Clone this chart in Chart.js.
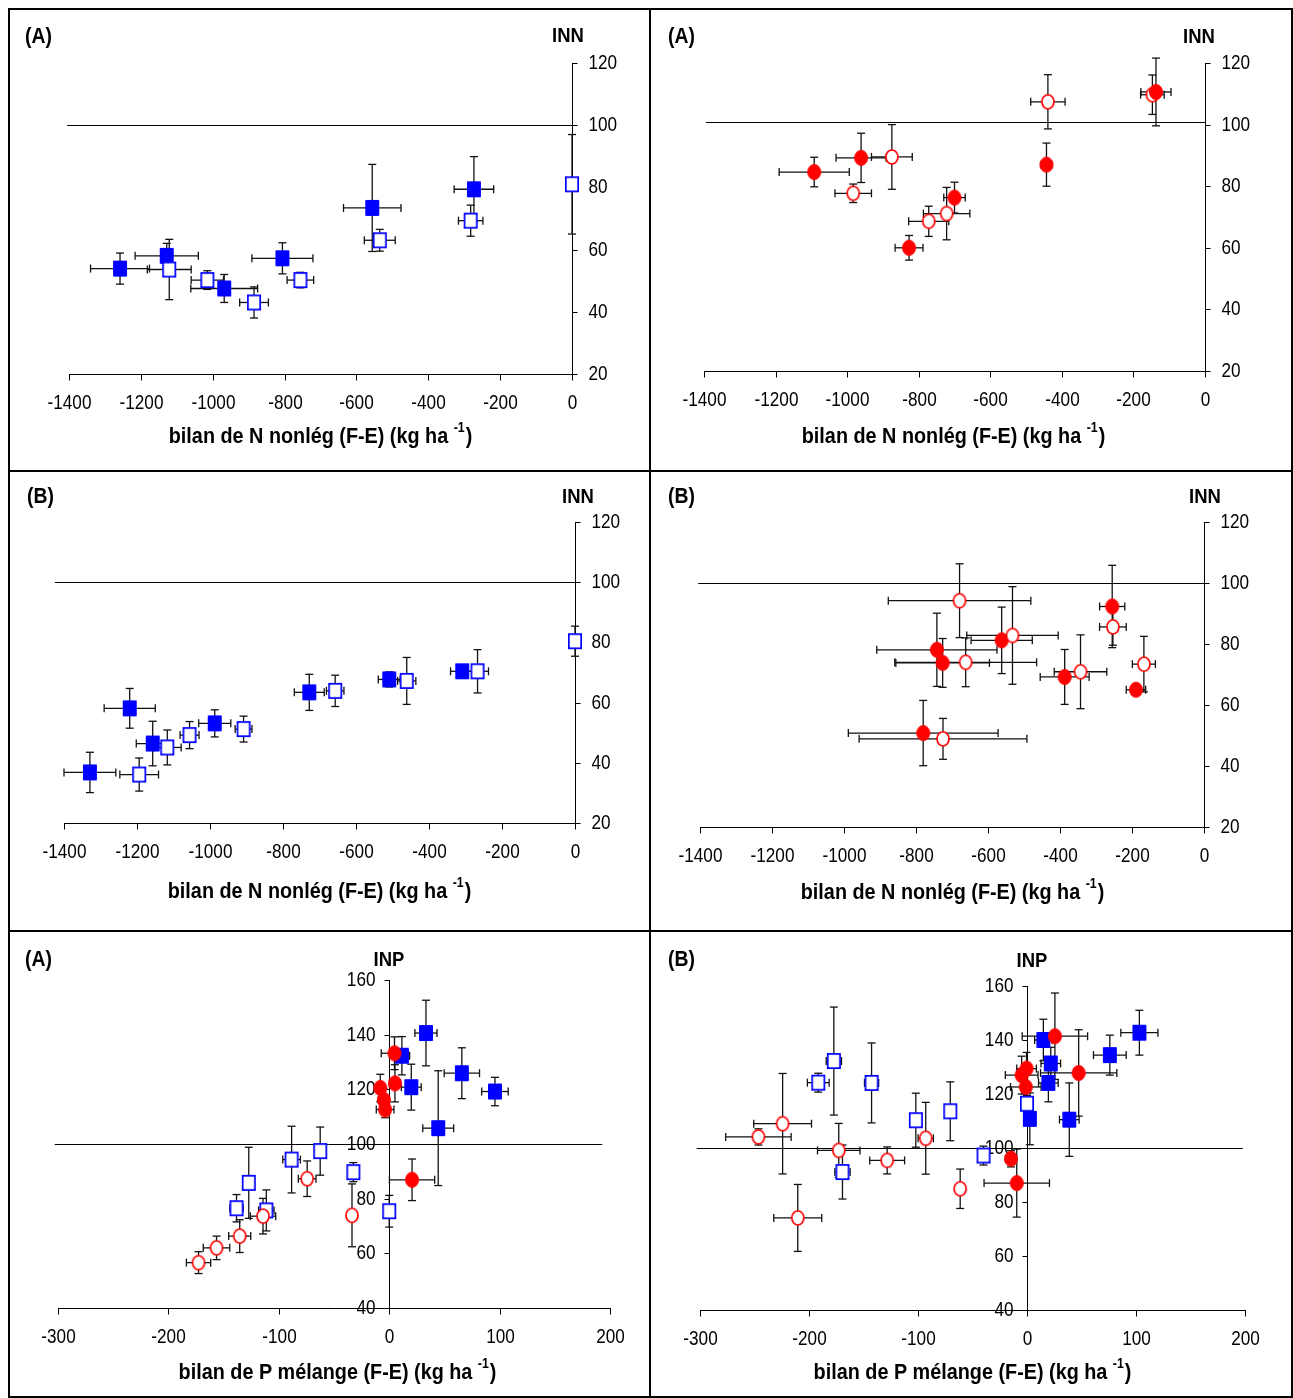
<!DOCTYPE html>
<html lang="fr">
<head>
<meta charset="utf-8">
<title>Indices de nutrition et bilans</title>
<script src="https://cdn.jsdelivr.net/npm/chart.js@4.4.1/dist/chart.umd.min.js"></script>
<style>
  html, body { margin: 0; padding: 0; background: #fff; }
  #page { position: relative; width: 1293px; height: 1398px; overflow: hidden; background: #fff; }
  #page canvas { position: absolute; display: block; }
  .cadre { position: absolute; box-sizing: border-box; border: 2px solid #000; }
  .trait { position: absolute; background: #000; }
</style>
</head>
<body>
<div id="page">
  <canvas id="g1"></canvas>
  <canvas id="g2"></canvas>
  <canvas id="g3"></canvas>
  <canvas id="g4"></canvas>
  <canvas id="g5"></canvas>
  <canvas id="g6"></canvas>
  <div class="cadre" style="left:8px;top:8px;width:1285px;height:1390px;"></div>
  <div class="trait" style="left:649px;top:8px;width:2px;height:1390px;"></div>
  <div class="trait" style="left:8px;top:470px;width:1285px;height:2px;"></div>
  <div class="trait" style="left:8px;top:930px;width:1285px;height:2px;"></div>
</div>
<script>
// ---- axis ticks ----
const xTicksN = [-1400, -1200, -1000, -800, -600, -400, -200, 0];
const yTicksN = [20, 40, 60, 80, 100, 120];
const xTicksP = [-300, -200, -100, 0, 100, 200];
const yTicksP = [40, 60, 80, 100, 120, 140, 160];

// ---- reference level (INN / INP = 100) and its extent on the x axis ----
const seuils = [100, 101, 100, 100, 100, 100];
const seuilEtendues = [[-1405, 0], [-1395, 0], [-1425, 0], [-1405, 0], [-303, 193], [-303, 198]];

// ---- series: [bilan, indice, ecart bilan, ecart indice] ----
// INN (A), non-legume balance
const innA_plein = [[-1258, 53.9, 82, 5], [-1128, 58, 88, 4], [-968, 47.5, 93, 4.5], [-806, 57.2, 85, 5], [-556, 73.4, 80, 14], [-273, 79.4, 55, 10.5]];
const innA_vide = [[-1121, 53.6, 61, 9.7], [-1015, 50.2, 45, 3], [-885, 43, 40, 5], [-756, 50.2, 37, 2.5], [-535, 63, 43, 3.5], [-282, 69.3, 34, 5], [0, 81, 0, 16]];
const innA_rougePlein = [[-1092, 84.6, 98, 4.8], [-961, 89.2, 70, 8], [-827, 60, 39, 4], [-700, 76.3, 30, 5], [-443, 87, 15, 7], [-137, 110.6, 42, 11]];
const innA_rougeVide = [[-983, 77.7, 51, 3], [-875, 89.5, 57, 10.5], [-772, 68.6, 56, 4.9], [-722, 71.1, 65, 8.5], [-439, 107.4, 48, 8.8], [-147, 109.7, 33, 6.4]];
// INN (B)
const innB_plein = [[-1329, 36.8, 71, 6.7], [-1220, 58.1, 70, 6.6], [-1157, 46.4, 45, 7.4], [-987, 53.1, 44, 4.5], [-728, 63.4, 41, 6], [-509, 67.7, 30, 2.5], [-309, 70.4, 32, 1.5]];
const innB_vide = [[-1194, 36.1, 53, 5.5], [-1117, 45.1, 38, 5.8], [-1056, 49.2, 26, 4.5], [-908, 51.2, 23, 4.3], [-657, 63.9, 24, 5.2], [-461, 67.2, 25, 7.8], [-267, 70.4, 30, 7.2], [0, 80.4, 0, 5]];
const innB_rougePlein = [[-742, 78.1, 167, 12], [-726, 73.8, 130, 8], [-780, 50.8, 208, 10.7], [-562, 81.2, 85, 10.9], [-387, 69.2, 68, 9], [-255, 92.3, 35, 13.5], [-189, 65, 27, 1]];
const innB_rougeVide = [[-679, 94.2, 198, 12.1], [-532, 82.8, 127, 16], [-662, 74, 197, 8], [-725, 48.9, 233, 6.7], [-343, 70.9, 73, 12.1], [-253, 85.6, 37, 6], [-167, 73.4, 32, 9.1]];
// INP (A), mixture P balance
const inpA_bleuPlein = [[33.3, 140.6, 10, 12], [11.5, 132.3, 7, 7], [20, 120.8, 9, 8.4], [65.8, 125.9, 16, 9.3], [95.8, 119.2, 12, 5.2], [44.4, 105.8, 14, 21]];
const inpA_rougePlein = [[4.8, 133.2, 12, 6], [-8.1, 120.5, 4, 5], [5.2, 122.2, 5, 6.8], [-4.8, 116.1, 5, 4], [-3.7, 112.6, 8, 3], [20.7, 86.9, 20.5, 7.6]];
const inpA_bleuVide = [[-138.3, 76.5, 6, 5], [-127.2, 85.8, 3, 13], [-111.3, 75.7, 7, 7.5], [-88.4, 94.3, 8, 12.2], [-62.5, 97.4, 3, 8.8], [-32.5, 89.7, 3, 3.5], [0, 75.4, 0, 5.8]];
const inpA_rougeVide = [[-172.7, 56.6, 11, 4], [-156.4, 62, 12, 4.3], [-135.4, 66.3, 10, 6], [-114.3, 73.6, 11.5, 6.5], [-74.3, 87.3, 8, 6.5], [-33.7, 73.9, 2, 11.5]];
// INP (B)
const inpB_bleuPlein = [[15, 140, 8, 7.7], [21.8, 131.3, 9, 6], [19.6, 124.1, 9, 7], [2.6, 110.8, 5, 9.6], [38.8, 110.5, 9, 13.6], [76, 134.4, 15, 7.4], [103.1, 142.7, 17, 8.3]];
const inpB_rougePlein = [[25.6, 141.4, 30, 16], [-0.4, 129.4, 9, 6], [-4.9, 127, 15, 7], [-1.1, 122.6, 14, 5], [47.4, 127.8, 35, 16], [-14.7, 96, 5, 3], [-9.4, 87, 30, 12.6]];
const inpB_bleuVide = [[-191.5, 124.2, 10, 3.5], [-177.2, 132.2, 7, 20], [-142.6, 124.1, 6.5, 14.8], [-102, 110.3, 2, 10], [-70.4, 113.6, 2, 10.9], [-169.3, 91.1, 7, 10], [-39.9, 97.2, 5, 3.5], [0, 116.4, 2, 3]];
const inpB_rougeVide = [[-246.4, 104.1, 30, 3], [-224.2, 109, 26.5, 18.6], [-210.3, 74.1, 22, 12.4], [-172.7, 99.1, 19.5, 10], [-128.3, 95.4, 16, 5], [-92.9, 103.6, 7, 13.3], [-61.3, 84.9, 2, 7.3]];

// ---- text helpers (slightly condensed face) ----
const FAMILLE = '"Liberation Sans", Arial, Helvetica, sans-serif';
const SERRE = 0.88;

function police(size, bold) { return (bold ? 'bold ' : '') + size + 'px ' + FAMILLE; }

function largeur(ctx, s, size, bold) {
  ctx.font = police(size, bold);
  return ctx.measureText(s).width * SERRE;
}

function texte(ctx, s, x, y, align, size, bold) {
  const w = largeur(ctx, s, size, bold);
  const gauche = align === 'center' ? x - w / 2 : align === 'right' ? x - w : x;
  ctx.save();
  ctx.translate(gauche, y);
  ctx.scale(SERRE, 1);
  ctx.font = police(size, bold);
  ctx.textAlign = 'left';
  ctx.textBaseline = 'middle';
  ctx.fillStyle = '#000';
  ctx.fillText(s, 0, 0);
  ctx.restore();
  return w;
}

function segment(ctx, x1, y1, x2, y2) {
  ctx.beginPath();
  ctx.moveTo(x1, y1);
  ctx.lineTo(x2, y2);
  ctx.stroke();
}

// ---- markers ----
function marqueur(forme, plein, couleur) {
  const c = document.createElement('canvas');
  c.width = 16; c.height = 18;
  const g = c.getContext('2d');
  g.fillStyle = plein ? couleur : '#fff';
  g.strokeStyle = couleur;
  g.lineWidth = plein ? 1 : 1.7;
  g.beginPath();
  if (forme === 'carre') {
    if (plein) g.rect(1.5, 1.5, 13, 15); else g.rect(1.85, 1.85, 12.3, 14.3);
  } else {
    if (plein) g.ellipse(8, 9, 6.5, 7.5, 0, 0, Math.PI * 2); else g.ellipse(8, 9, 6, 7, 0, 0, Math.PI * 2);
  }
  g.fill();
  g.stroke();
  return c;
}
const BLEU = '#0000ff', ROUGE = '#ff0000';
const styles = {
  bp: marqueur('carre', true, BLEU),
  bv: marqueur('carre', false, BLEU),
  rp: marqueur('rond', true, ROUGE),
  rv: marqueur('rond', false, ROUGE)
};

// ---- axes, reference line, titles and error bars ----
const panneauPlugin = {
  id: 'panneau',
  beforeDatasetsDraw(chart, args, o) {
    const ctx = chart.ctx;
    const xs = chart.scales.x, ys = chart.scales.y;
    const ox = o.origine[0], oy = o.origine[1];
    ctx.save();
    ctx.strokeStyle = '#000';
    ctx.lineWidth = 1;

    // reference line
    const yr = Math.round(ys.getPixelForValue(o.seuil)) + 0.5;
    segment(ctx, xs.getPixelForValue(o.etendue[0]), yr, xs.getPixelForValue(o.etendue[1]), yr);

    // x axis along the bottom
    const yb = Math.round(ys.getPixelForValue(ys.min)) + 0.5;
    segment(ctx, Math.round(xs.left), yb, Math.round(xs.right) + 1, yb);
    xs.ticks.forEach(t => {
      const px = Math.round(xs.getPixelForValue(t.value)) + 0.5;
      segment(ctx, px, yb, px, yb + 6);
      texte(ctx, String(t.value), px, yb + 29, 'center', 19.5, false);
    });

    // y axis crossing at bilan = 0
    const xa = Math.round(xs.getPixelForValue(0)) + 0.5;
    segment(ctx, xa, Math.round(ys.top), xa, Math.round(ys.bottom) + 1);
    const sens = o.cote === 'droite' ? 1 : -1;
    ys.ticks.forEach(t => {
      const py = Math.round(ys.getPixelForValue(t.value)) + 0.5;
      segment(ctx, xa, py, xa + sens * 5, py);
      texte(ctx, String(t.value), xa + sens * (sens > 0 ? 16 : 14), py, sens > 0 ? 'left' : 'right', 19.5, false);
    });

    // panel tag and axis titles
    texte(ctx, o.etiquette, o.etiquettePos[0] - ox, o.etiquettePos[1] - oy, 'left', 22, true);
    texte(ctx, o.titreY, o.titreYPos[0] - ox, o.titreYPos[1] - oy, 'center', 21, true);
    const principal = o.titreX, exposant = '-1', fin = ')';
    const w1 = largeur(ctx, principal, 22.5, true);
    const w2 = largeur(ctx, exposant, 14, true);
    const w3 = largeur(ctx, fin, 22.5, true);
    let cx = o.titreXPos[0] - ox - (w1 + w2 + w3) / 2;
    const cy = o.titreXPos[1] - oy;
    cx += texte(ctx, principal, cx, cy, 'left', 22.5, true);
    cx += texte(ctx, exposant, cx, cy - 9, 'left', 14, true);
    texte(ctx, fin, cx + 1, cy, 'left', 22.5, true);

    // error bars
    ctx.strokeStyle = '#111';
    ctx.lineWidth = 1.3;
    const cap = 4;
    chart.data.datasets.forEach((ds) => {
      ds.data.forEach(d => {
        const px = xs.getPixelForValue(d.x), py = ys.getPixelForValue(d.y);
        if (d.ex > 0) {
          const a = xs.getPixelForValue(d.x - d.ex), b = xs.getPixelForValue(d.x + d.ex);
          segment(ctx, a, py, b, py);
          segment(ctx, a, py - cap, a, py + cap);
          segment(ctx, b, py - cap, b, py + cap);
        }
        if (d.ey > 0) {
          const a = ys.getPixelForValue(d.y + d.ey), b = ys.getPixelForValue(d.y - d.ey);
          segment(ctx, px, a, px, b);
          segment(ctx, px - cap, a, px + cap, a);
          segment(ctx, px - cap, b, px + cap, b);
        }
      });
    });
    ctx.restore();
  }
};

// ---- panels ----
const TITRE_N = 'bilan de N nonlég (F-E) (kg ha ';
const TITRE_P = 'bilan de P mélange (F-E) (kg ha ';
const panneaux = [
  { id: 'g1', cellule: [10, 10, 639, 460], zone: [69, 63, 572, 374], xt: xTicksN, yt: yTicksN, k: 0, cote: 'droite',
    etiquette: '(A)', etiquettePos: [25, 37], titreY: 'INN', titreYPos: [568, 36], titreX: TITRE_N, titreXPos: [320, 437],
    series: [[innA_vide, 'bv'], [innA_plein, 'bp']] },
  { id: 'g2', cellule: [651, 10, 640, 460], zone: [704, 63, 1205, 371], xt: xTicksN, yt: yTicksN, k: 1, cote: 'droite',
    etiquette: '(A)', etiquettePos: [668, 37], titreY: 'INN', titreYPos: [1199, 37], titreX: TITRE_N, titreXPos: [953, 437],
    series: [[innA_rougePlein, 'rp'], [innA_rougeVide, 'rv']] },
  { id: 'g3', cellule: [10, 472, 639, 458], zone: [64, 522, 575, 823], xt: xTicksN, yt: yTicksN, k: 2, cote: 'droite',
    etiquette: '(B)', etiquettePos: [27, 497], titreY: 'INN', titreYPos: [578, 497], titreX: TITRE_N, titreXPos: [319, 892],
    series: [[innB_vide, 'bv'], [innB_plein, 'bp']] },
  { id: 'g4', cellule: [651, 472, 640, 458], zone: [700, 522, 1204, 827], xt: xTicksN, yt: yTicksN, k: 3, cote: 'droite',
    etiquette: '(B)', etiquettePos: [668, 497], titreY: 'INN', titreYPos: [1205, 497], titreX: TITRE_N, titreXPos: [952, 893],
    series: [[innB_rougeVide, 'rv'], [innB_rougePlein, 'rp']] },
  { id: 'g5', cellule: [10, 932, 639, 464], zone: [58, 980, 610, 1308], xt: xTicksP, yt: yTicksP, k: 4, cote: 'gauche',
    etiquette: '(A)', etiquettePos: [25, 960], titreY: 'INP', titreYPos: [389, 960], titreX: TITRE_P, titreXPos: [337, 1373],
    series: [[inpA_rougePlein, 'rp'], [inpA_bleuPlein, 'bp'], [inpA_rougeVide, 'rv'], [inpA_bleuVide, 'bv']] },
  { id: 'g6', cellule: [651, 932, 640, 464], zone: [700, 986, 1245, 1310], xt: xTicksP, yt: yTicksP, k: 5, cote: 'gauche',
    etiquette: '(B)', etiquettePos: [668, 960], titreY: 'INP', titreYPos: [1032, 961], titreX: TITRE_P, titreXPos: [972, 1373],
    series: [[inpB_rougePlein, 'rp'], [inpB_bleuPlein, 'bp'], [inpB_rougeVide, 'rv'], [inpB_bleuVide, 'bv']] }
];

panneaux.forEach(p => {
  const [cx, cy, cw, ch] = p.cellule;
  const [zl, zt, zr, zb] = p.zone;
  const cv = document.getElementById(p.id);
  cv.width = cw; cv.height = ch;
  cv.style.left = cx + 'px'; cv.style.top = cy + 'px';
  cv.style.width = cw + 'px'; cv.style.height = ch + 'px';

  const xt = p.xt, yt = p.yt;
  new Chart(cv, {
    type: 'scatter',
    data: {
      datasets: p.series.map(([rows, st]) => ({
        data: rows.map(r => ({ x: r[0], y: r[1], ex: r[2], ey: r[3] })),
        pointStyle: styles[st],
        pointRadius: 7,
        pointHoverRadius: 7,
        showLine: false,
        clip: false
      }))
    },
    options: {
      responsive: false,
      animation: false,
      devicePixelRatio: 1,
      events: [],
      layout: { padding: { left: zl - cx, top: zt - cy, right: cx + cw - zr, bottom: cy + ch - zb } },
      scales: {
        x: { type: 'linear', display: false, min: xt[0], max: xt[xt.length - 1],
             afterBuildTicks: s => { s.ticks = xt.map(v => ({ value: v })); } },
        y: { type: 'linear', display: false, min: yt[0], max: yt[yt.length - 1],
             afterBuildTicks: s => { s.ticks = yt.map(v => ({ value: v })); } }
      },
      plugins: {
        legend: { display: false },
        tooltip: { enabled: false },
        panneau: {
          origine: [cx, cy], seuil: seuils[p.k], etendue: seuilEtendues[p.k], cote: p.cote,
          etiquette: p.etiquette, etiquettePos: p.etiquettePos,
          titreY: p.titreY, titreYPos: p.titreYPos,
          titreX: p.titreX, titreXPos: p.titreXPos
        }
      }
    },
    plugins: [panneauPlugin]
  });
});
</script>
</body>
</html>
